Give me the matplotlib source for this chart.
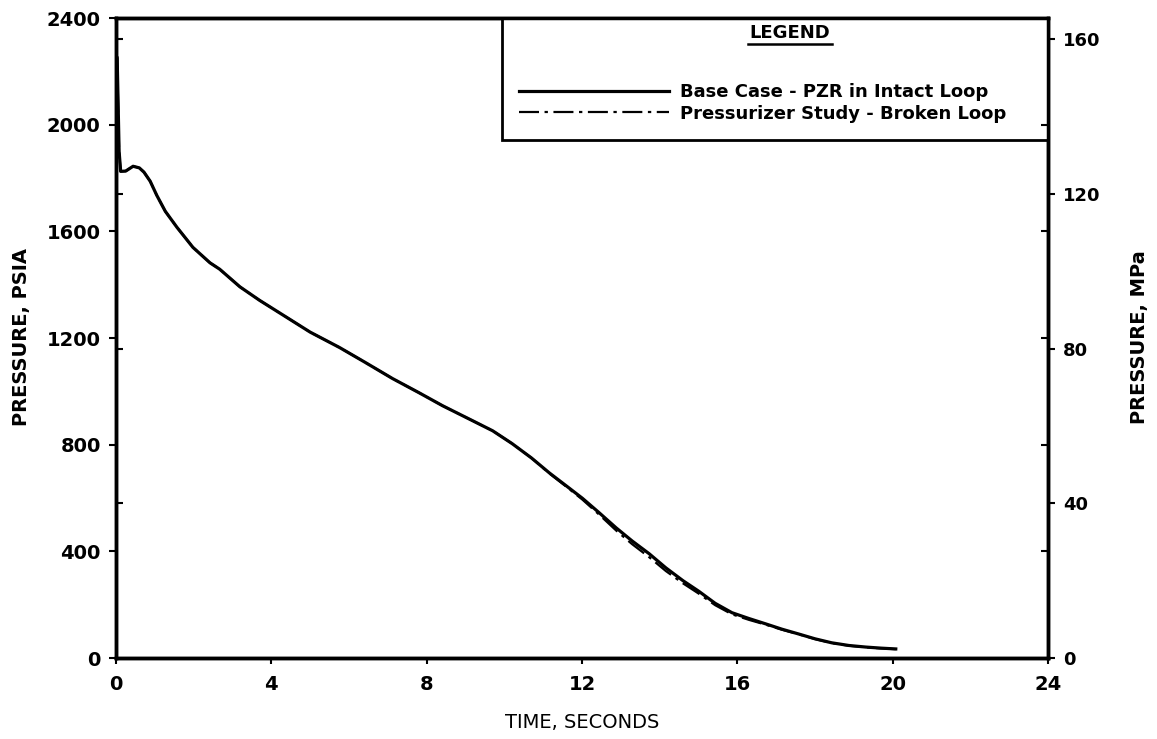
import matplotlib
matplotlib.use("Agg")
import matplotlib.pyplot as plt
from matplotlib.patches import Rectangle
from matplotlib.lines import Line2D

# ---------------- data ----------------
time_base = [0.03, 0.08, 0.12, 0.25, 0.44, 0.60, 0.72, 0.88, 1.05, 1.27, 1.57,
             1.98, 2.42, 2.67, 3.19, 3.70, 4.40, 5.00, 5.76, 6.40, 7.12, 7.80,
             8.41, 9.18, 9.70, 10.20, 10.70, 11.16, 11.60, 12.01, 12.44, 12.88,
             13.29, 13.73, 14.16, 14.60, 15.01, 15.43, 15.86, 16.30, 16.73,
             17.15, 17.58, 18.00, 18.43, 18.87, 19.31, 19.70, 20.08]
psia_base = [2250, 1900, 1825, 1826, 1844, 1838, 1822, 1788, 1735, 1675, 1615,
             1540, 1482, 1458, 1392, 1341, 1277, 1222, 1164, 1110, 1048, 995,
             946, 890, 852, 804, 750, 694, 645, 599, 545, 488,
             439, 391, 338, 290, 250, 205, 170, 148, 128,
             108, 90, 72, 57, 47, 41, 37, 34]

time_broken = [0.03, 0.08, 0.12, 0.25, 0.44, 0.60, 0.72, 0.88, 1.05, 1.27, 1.57,
               1.98, 2.42, 2.67, 3.19, 3.70, 4.40, 5.00, 5.76, 6.40, 7.12, 7.80,
               8.41, 9.18, 9.70, 10.20, 10.70, 11.16, 11.60, 12.01, 12.44, 12.88,
               13.29, 13.73, 14.16, 14.60, 15.01, 15.43, 15.86, 16.30, 16.73,
               17.15, 17.58, 18.00, 18.43, 18.87, 19.31, 19.70, 20.08]
psia_broken = [2250, 1900, 1825, 1826, 1844, 1838, 1822, 1788, 1735, 1675, 1615,
               1540, 1482, 1458, 1392, 1341, 1277, 1222, 1164, 1110, 1048, 995,
               946, 890, 852, 804, 750, 692, 642, 594, 538, 478,
               427, 378, 326, 280, 241, 198, 164, 143, 125,
               106, 89, 71, 56, 46, 40, 36, 33]

x_ticks = [0, 4, 8, 12, 16, 20, 24]
psia_ticks = [0, 400, 800, 1200, 1600, 2000, 2400]
mpa_ticks = [0, 40, 80, 120, 160]
mpa_tick_labels = ["0", "40", "80", "120", "160"]

label_base = "Base Case - PZR in Intact Loop"
label_broken = "Pressurizer Study - Broken Loop"

PSI_TO_RIGHT = 0.0689476  # psia -> right-axis units (MPa x 10 as printed)

# ---------------- figure ----------------
W, H = 1157, 739
fig = plt.figure(figsize=(W / 100, H / 100), dpi=100)
L, R, T, B = 116, 1048, 18, 658
ax = fig.add_axes([L / W, 1 - B / H, (R - L) / W, (B - T) / H])
ax2 = ax.twinx()

narrow = ["Liberation Sans Narrow", "DejaVu Sans"]
DASHDOT = (0, (9, 2.5, 1.5, 2.5))

ax.plot(time_base, psia_base, color="black", lw=2.3, solid_joinstyle="round")
ax.plot(time_broken, psia_broken, color="black", lw=1.6, linestyle=DASHDOT)

ax.set_xlim(0, 24)
ax.set_ylim(0, 2400)
ax2.set_ylim(0, 2400 * PSI_TO_RIGHT)

for sp in list(ax.spines.values()) + list(ax2.spines.values()):
    sp.set_linewidth(2.5)

ax.set_xticks(x_ticks)
ax.set_xticklabels([str(v) for v in x_ticks], fontsize=14, fontweight="bold")
ax.set_yticks(psia_ticks)
ax.set_yticklabels([str(v) for v in psia_ticks], fontsize=14, fontweight="bold")
ax.tick_params(axis="x", direction="out", length=4, width=1.5, pad=8)
ax.tick_params(axis="y", direction="out", length=5, width=1.5, pad=6)

# inward cross-reference ticks
ax.set_yticks([v / PSI_TO_RIGHT for v in mpa_ticks[1:]], minor=True)
ax.tick_params(axis="y", which="minor", direction="in", length=5, width=1.5)
ax2.set_yticks(mpa_ticks)
ax2.set_yticklabels(mpa_tick_labels, fontsize=13, fontweight="bold")
ax2.tick_params(axis="y", direction="out", length=5, width=1.5, pad=6)
ax2.set_yticks([v * PSI_TO_RIGHT for v in psia_ticks[1:-1]], minor=True)
ax2.tick_params(axis="y", which="minor", direction="in", length=5, width=1.5)

fig.text(22 / W, 1 - 337 / H, "PRESSURE, PSIA", rotation=90, ha="center",
         va="center", fontsize=14, fontweight="bold", family=narrow)
fig.text(1140 / W, 1 - 337 / H, "PRESSURE, MPa", rotation=90, ha="center",
         va="center", fontsize=14, fontweight="bold", family=narrow)
fig.text(582 / W, 1 - 722 / H, "TIME, SECONDS", ha="center", va="center",
         fontsize=14, family=narrow)

# legend box
lx0 = (502 - L) / (R - L)
ly0 = (B - 140) / (B - T)
ax.add_patch(Rectangle((lx0, ly0), 1 - lx0, 1 - ly0, transform=ax.transAxes,
                       fill=True, facecolor="white", edgecolor="black",
                       lw=2.0, zorder=5, clip_on=False))
ax.text((790 - L) / (R - L), (B - 33) / (B - T), "LEGEND", transform=ax.transAxes,
        ha="center", va="center", fontsize=13, fontweight="bold", zorder=6)
ax.plot([(748 - L) / (R - L), (832 - L) / (R - L)],
        [(B - 44) / (B - T)] * 2, transform=ax.transAxes, color="black",
        lw=1.8, zorder=6, clip_on=False)

handles = [Line2D([], [], color="black", lw=2.3),
           Line2D([], [], color="black", lw=1.6, linestyle=DASHDOT)]
leg = ax.legend(handles, [label_base, label_broken], loc="upper left",
                bbox_to_anchor=((519 - L) / (R - L), (B - 83) / (B - T)),
                frameon=False, handlelength=8.3, handletextpad=0.6,
                labelspacing=0.2, borderpad=0, borderaxespad=0,
                prop={"size": 13, "weight": "bold"})
leg.set_zorder(7)

fig.savefig("out.png", dpi=100)
